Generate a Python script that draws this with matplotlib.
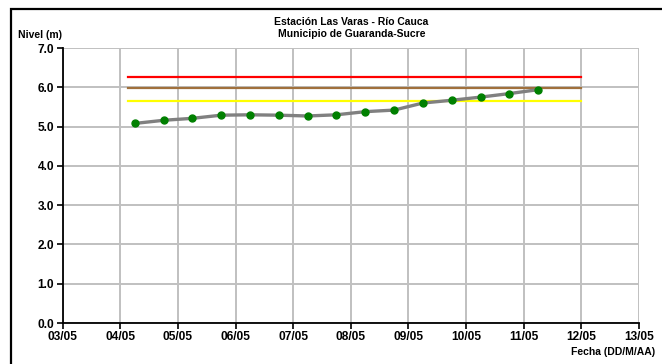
import matplotlib
matplotlib.use("Agg")
import matplotlib.pyplot as plt
import matplotlib.dates as mdates
import pandas as pd
from matplotlib.patches import Rectangle

# data
fechas = ["2011-05-04 06:00", "2011-05-04 18:00", "2011-05-05 06:00", "2011-05-05 18:00",
          "2011-05-06 06:00", "2011-05-06 18:00", "2011-05-07 06:00", "2011-05-07 18:00",
          "2011-05-08 06:00", "2011-05-08 18:00", "2011-05-09 06:00", "2011-05-09 18:00",
          "2011-05-10 06:00", "2011-05-10 18:00", "2011-05-11 06:00"]
nivel = [5.08, 5.16, 5.21, 5.29, 5.30, 5.29, 5.27, 5.30,
         5.38, 5.42, 5.60, 5.67, 5.75, 5.84, 5.94]

umbral_inicio = "2011-05-04 03:00"
umbral_fin = "2011-05-12 00:00"
alerta_roja = 6.25
alerta_naranja = 5.97
alerta_amarilla = 5.66

x = pd.to_datetime(fechas)
xu = pd.to_datetime([umbral_inicio, umbral_fin])

plt.rcParams["font.family"] = ["Liberation Sans", "DejaVu Sans"]
plt.rcParams["font.weight"] = "bold"

fig = plt.figure(figsize=(6.62, 3.64), dpi=100)
ax = fig.add_axes([0.0947, 0.1126, 0.8706, 0.7555])

ax.plot(xu, [alerta_roja] * 2, color="#FF0000", lw=1.6, zorder=3)
ax.plot(xu, [alerta_naranja] * 2, color="#A0703C", lw=1.6, zorder=3)
ax.plot(xu, [alerta_amarilla] * 2, color="#FFFF00", lw=1.6, zorder=3)
ax.plot(x, nivel, color="#808080", lw=2.4, zorder=4)
ax.plot(x, nivel, linestyle="none", marker="o", ms=5,
        color="#008000", zorder=5)

ax.set_xlim(pd.Timestamp("2011-05-03"), pd.Timestamp("2011-05-13"))
ax.set_ylim(0, 7)
ax.xaxis.set_major_locator(mdates.DayLocator())
ax.xaxis.set_major_formatter(mdates.DateFormatter("%d/%m"))
ax.set_yticks([0, 1, 2, 3, 4, 5, 6, 7])
ax.yaxis.set_major_formatter(plt.FormatStrFormatter("%.1f"))
ax.tick_params(labelsize=8.6, length=4, width=1.2, color="black", pad=2)
for lab in ax.get_xticklabels() + ax.get_yticklabels():
    lab.set_fontweight("bold")

ax.grid(True, color="#C0C0C0", lw=1.4)
ax.set_axisbelow(True)
ax.spines["top"].set_visible(False)
ax.spines["right"].set_visible(False)
ax.spines["left"].set_linewidth(1.3)
ax.spines["bottom"].set_linewidth(1.3)

fig.text(0.531, 0.940, "Estación Las Varas - Río Cauca", ha="center",
         va="center", fontsize=7.5, fontweight="bold")
fig.text(0.531, 0.906, "Municipio de Guaranda-Sucre", ha="center",
         va="center", fontsize=7.5, fontweight="bold")
fig.text(0.027, 0.905, "Nivel (m)", ha="left", va="center",
         fontsize=7.5, fontweight="bold")
fig.text(0.99, 0.033, "Fecha (DD/M/AA)", ha="right", va="center",
         fontsize=7.5, fontweight="bold")

fig.patches.append(Rectangle((0.0166, -0.1), 1.2, 1.075, transform=fig.transFigure,
                             fill=False, edgecolor="black", lw=1.6))

fig.savefig("out.png", dpi=100)
